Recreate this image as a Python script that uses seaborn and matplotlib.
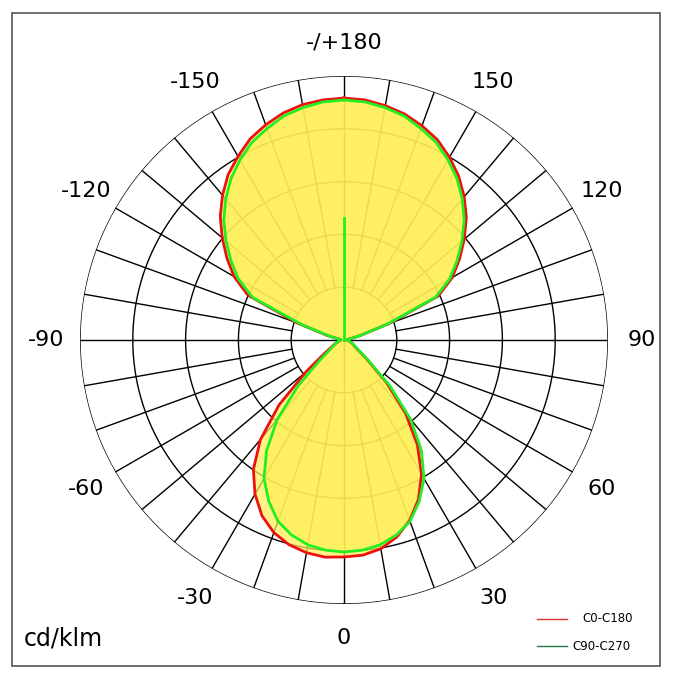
"""Polar light distribution diagram (cd/klm)."""

import matplotlib.pyplot as plt
import numpy as np
import pandas as pd
import seaborn as sns

# gamma angles 0..180 step 5
gamma = list(range(0, 185, 5))

# C90-C270 (symmetric)
c90_c270 = [212, 211, 208, 202, 193, 178, 160, 135, 104, 65, 32, 18, 13, 10, 8, 6, 5, 4, 3,
            3, 5, 15, 45, 101, 122, 138, 154, 170, 184, 197, 208, 218, 225, 232, 236, 239, 240]
# C0 side (positive angles)
c0 = [217, 216, 212, 204, 192, 176, 155, 128, 96, 60, 30, 17, 12, 10, 8, 6, 5, 4, 3,
      3, 5, 16, 48, 104, 125, 141, 157, 173, 187, 200, 211, 221, 228, 234, 238, 241, 242]
# C180 side (negative angles)
c180 = [217, 218, 216, 212, 205, 194, 178, 158, 130, 92, 50, 25, 15, 11, 8, 6, 5, 4, 3,
        3, 5, 17, 50, 106, 127, 143, 159, 175, 189, 202, 212, 222, 229, 235, 239, 241, 242]
spike_len = 122

angle_labels = [0, 30, 60, 90, 120, 150, 180, -150, -120, -90, -60, -30]
r_max = 264
rings = [52.8, 105.6, 158.4, 211.2, 264]


def full_curve(pos, neg):
    ang = [-g for g in gamma[::-1]] + gamma[1:]
    val = neg[::-1] + pos[1:]
    return pd.DataFrame({"theta": np.deg2rad(ang), "r": val})


red = full_curve(c0, c180)
green = full_curve(c90_c270, c90_c270)

fig = plt.figure(figsize=(6.8, 6.81), dpi=100)
ax = fig.add_axes([80 / 680, 77 / 681, 528 / 680, 528 / 681], projection="polar")
ax.set_theta_zero_location("S")
ax.set_theta_direction(1)
ax.set_ylim(0, r_max)
ax.grid(False)
ax.set_xticks([])
ax.set_yticks([])
ax.spines["polar"].set_visible(False)

# grid
t = np.linspace(0, 2 * np.pi, 361)
for r in rings:
    ax.plot(t, np.full_like(t, r), color="black", lw=1, zorder=1)
for a in range(0, 360, 10):
    r0 = 0 if a % 90 == 0 else rings[0]
    ax.plot([np.deg2rad(a)] * 2, [r0, r_max], color="black", lw=1, zorder=1)

# fills
for df in (red, green):
    ax.fill(df["theta"], df["r"], color="#ffee55", alpha=0.72, lw=0, zorder=2)

sns.lineplot(data=red, x="theta", y="r", sort=False, color="#ee1111", lw=2,
             ax=ax, zorder=3, estimator=None)
sns.lineplot(data=green, x="theta", y="r", sort=False, color="#22ee22", lw=2,
             ax=ax, zorder=4, estimator=None)
ax.plot([np.pi, np.pi], [0, spike_len], color="#22ee22", lw=2, zorder=4)
ax.set_xlabel("")
ax.set_ylabel("")
ax.set_ylim(0, r_max)

for a in angle_labels:
    lab = "-/+180" if a == 180 else str(a)
    ax.text(np.deg2rad(a), 298, lab, ha="center", va="center", fontsize=16,
            clip_on=False)

fig.text(24 / 680, 1 - 638 / 681, "cd/klm", fontsize=17, va="center")
fig.lines.append(plt.Line2D([537 / 680, 567 / 680], [1 - 619 / 681] * 2,
                            color="#dd3333", lw=1, transform=fig.transFigure))
fig.lines.append(plt.Line2D([537 / 680, 567 / 680], [1 - 646 / 681] * 2,
                            color="#227744", lw=1, transform=fig.transFigure))
fig.text(582 / 680, 1 - 619 / 681, "C0-C180", fontsize=8.5, va="center")
fig.text(572 / 680, 1 - 646 / 681, "C90-C270", fontsize=8.5, va="center")
fig.patches.append(plt.Rectangle((12 / 680, 1 - 666 / 681), 648 / 680, 653 / 681,
                                 fill=False, ec="#555555", lw=1.2,
                                 transform=fig.transFigure))

fig.savefig("out.png", dpi=100)
